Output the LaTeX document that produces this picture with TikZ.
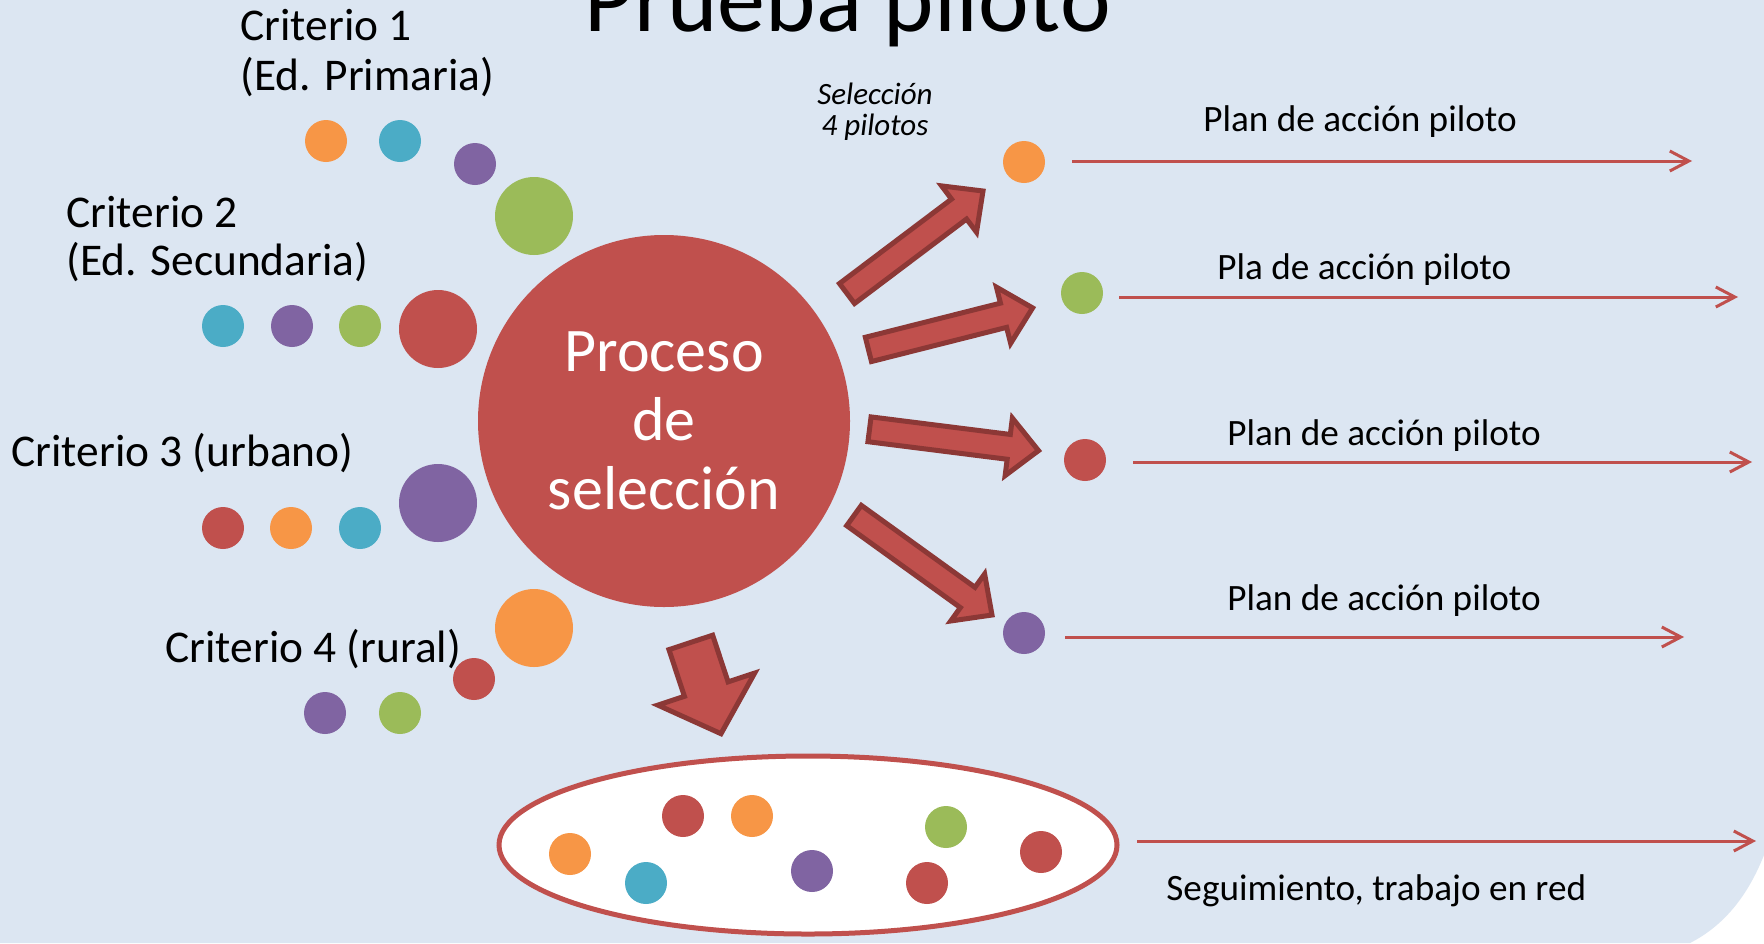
\documentclass[tikz,border=0pt]{standalone}
\usepackage{fontspec}
\setmainfont{Carlito}
\usetikzlibrary{calc,arrows.meta,shapes.geometric}
\definecolor{bgblue}{RGB}{220,230,242}
\definecolor{cred}{RGB}{192,80,77}
\definecolor{corange}{RGB}{247,150,70}
\definecolor{cteal}{RGB}{75,172,198}
\definecolor{cpurple}{RGB}{128,100,162}
\definecolor{cgreen}{RGB}{155,187,89}
\definecolor{cdark}{RGB}{140,56,54}
\newcommand\blockarr[6]{%
  \coordinate (#1h) at ($(#3)!#6!(#2)$);
  \draw[barrow] ($(#2)!#4!90:(#3)$) -- ($(#1h)!#4!90:(#3)$) -- ($(#1h)!#5!90:(#3)$) -- (#3)
     -- ($(#1h)!#5!-90:(#3)$) -- ($(#1h)!#4!-90:(#3)$) -- ($(#2)!#4!-90:(#3)$) -- cycle;}
\begin{document}
\begin{tikzpicture}[x=0.5pt,y=-0.5pt,
  dot/.style={circle,inner sep=0pt,minimum size=21pt,draw=none},
  bigdot/.style={circle,inner sep=0pt,minimum size=39pt,draw=none},
  crit/.style={anchor=base west,inner sep=0pt,font=\fontsize{22.7}{24}\selectfont},
  lab/.style={anchor=base west,inner sep=0pt,font=\fontsize{18.6}{20}\selectfont},
  thinarr/.style={draw=cred,line width=1.5pt,-{Straight Barb[length=9.5pt,width=10pt]}},
  barrow/.style={fill=cred,draw=cdark,line width=2.5pt,line join=miter}]
\useasboundingbox (0,0) rectangle (1764,943);
\clip (0,0) rectangle (1764,943);
\fill[white] (0,0) rectangle (1764,943);
\fill[bgblue] (0,0) -- (1764,0) -- (1764,855) .. controls (1748,895) and (1725,925) .. (1690,943) -- (0,943) -- cycle;

% title
\node[anchor=base west,inner sep=0pt,font=\fontsize{48}{50}\selectfont] (title) at (584,31) {Prueba piloto};

% criteria texts
\node[crit] (c1t) at (240,40) {Criterio 1};
\node[crit] (c1u) at (240,90) {(Ed. Primaria)};
\node[crit] (c2t) at (66,227) {Criterio 2};
\node[crit] (c2u) at (66,275) {(Ed. Secundaria)};
\node[crit] (c3t) at (11,466) {Criterio 3 (urbano)};
\node[crit] (c4t) at (165,662) {Criterio 4 (rural)};

% criterio 1 dots
\node[dot,fill=corange] (d1a) at (326,141) {};
\node[dot,fill=cteal] (d1b) at (400,141) {};
\node[dot,fill=cpurple] (d1c) at (475,164) {};
\node[bigdot,fill=cgreen] (d1d) at (534,216) {};
% criterio 2 dots
\node[dot,fill=cteal] (d2a) at (223,326) {};
\node[dot,fill=cpurple] (d2b) at (292,326) {};
\node[dot,fill=cgreen] (d2c) at (360,326) {};
\node[bigdot,fill=cred] (d2d) at (438,329) {};
% criterio 3 dots
\node[dot,fill=cred] (d3a) at (223,528) {};
\node[dot,fill=corange] (d3b) at (291,528) {};
\node[dot,fill=cteal] (d3c) at (360,528) {};
\node[bigdot,fill=cpurple] (d3d) at (438,503) {};
% criterio 4 dots
\node[bigdot,fill=corange] (d4d) at (534,628) {};
\node[dot,fill=cred] (d4c) at (474,679) {};
\node[dot,fill=cpurple] (d4a) at (325,713) {};
\node[dot,fill=cgreen] (d4b) at (400,713) {};

% central process
\node[circle,fill=cred,inner sep=0pt,minimum size=186pt,align=center,text=white,
  font=\fontsize{31}{34.5}\selectfont] (proc) at (664,421) {Proceso\\de\\selección};

% selection label
\node[align=center,inner sep=0pt,font=\itshape\fontsize{15.5}{15.5}\selectfont] (sel) at (875,112) {Selección\\4 pilotos};

% pilot dots
\node[dot,fill=corange] (p1) at (1024,162) {};
\node[dot,fill=cgreen] (p2) at (1082,293) {};
\node[dot,fill=cred] (p3) at (1085,460) {};
\node[dot,fill=cpurple] (p4) at (1024,633) {};

% block arrows
\coordinate (aAt) at (847,293.5); \coordinate (aAp) at (983,191);
\coordinate (aBt) at (868.4,349.4); \coordinate (aBp) at (1032.6,307.9);
\coordinate (aCt) at (869.5,429.3); \coordinate (aCp) at (1038.5,450.6);
\coordinate (aDt) at (854,515.5); \coordinate (aDp) at (992,615);
\coordinate (aEt) at (690.8,642.4); \coordinate (aEp) at (721,733.7);
\blockarr{aA}{aAt}{aAp}{6.25pt}{14.5pt}{15pt}
\blockarr{aB}{aBt}{aBp}{6.25pt}{14.5pt}{15pt}
\blockarr{aC}{aCt}{aCp}{6.25pt}{14.5pt}{15pt}
\blockarr{aD}{aDt}{aDp}{6.25pt}{14.5pt}{15pt}
\blockarr{aE}{aEt}{aEp}{11.5pt}{25.5pt}{23.5pt}

% pool ellipse
\node[ellipse,draw=cred,line width=2.5pt,fill=white,inner sep=0pt,
  minimum width=309pt,minimum height=89pt] (pool) at (808,845) {};
\node[dot,fill=corange] (e1) at (570,854) {};
\node[dot,fill=cteal] (e2) at (646,883) {};
\node[dot,fill=cred] (e3) at (683,816) {};
\node[dot,fill=corange] (e4) at (752,816) {};
\node[dot,fill=cpurple] (e5) at (812,871) {};
\node[dot,fill=cred] (e6) at (927,883) {};
\node[dot,fill=cgreen] (e7) at (946,827) {};
\node[dot,fill=cred] (e8) at (1041,852) {};

% thin arrows
\coordinate (s1) at (1072,161); \coordinate (t1) at (1692,161);
\coordinate (s2) at (1119,297); \coordinate (t2) at (1738,297);
\coordinate (s3) at (1133,462); \coordinate (t3) at (1752,462);
\coordinate (s4) at (1065,637); \coordinate (t4) at (1684,637);
\coordinate (s5) at (1137,841); \coordinate (t5) at (1756,841);
\draw[thinarr] (s1) -- (t1);
\draw[thinarr] (s2) -- (t2);
\draw[thinarr] (s3) -- (t3);
\draw[thinarr] (s4) -- (t4);
\draw[thinarr] (s5) -- (t5);

% labels
\node[lab] (l1) at (1203,131) {Plan de acción piloto};
\node[lab] (l2) at (1217,279) {Pla de acción piloto};
\node[lab] (l3) at (1227,445) {Plan de acción piloto};
\node[lab] (l4) at (1227,610) {Plan de acción piloto};
\node[lab] (l5) at (1166,900) {Seguimiento, trabajo en red};
\end{tikzpicture}
\end{document}
